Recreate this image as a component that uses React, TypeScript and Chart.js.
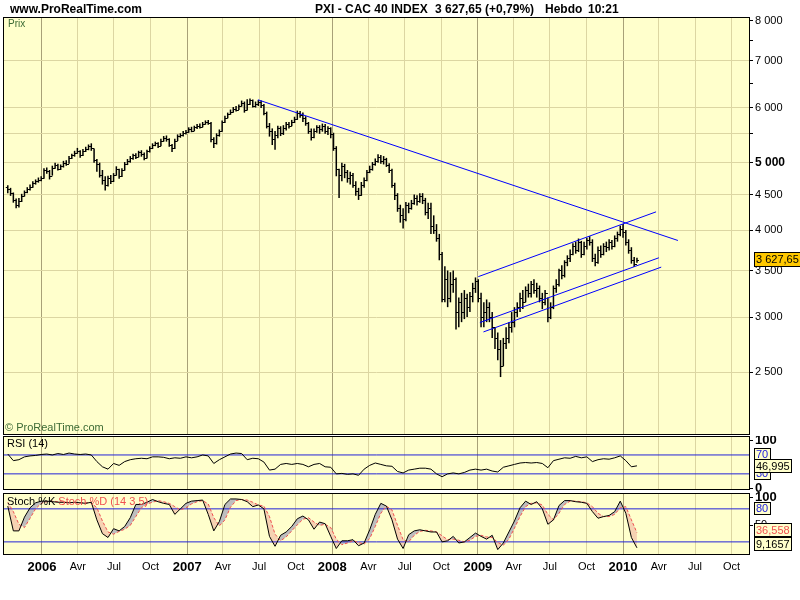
import React, { useEffect, useRef } from "react";
import { Chart, registerables } from "chart.js";

Chart.register(...registerables);

const FONT = '"Liberation Sans", Arial, Helvetica, sans-serif';

// ---------------- data (weekly bars, CAC 40) ----------------
const FIRST_WEEK = "2005-10-07";
const FIRST_OPEN = 4620;

const closes = [
  4580, 4520, 4420, 4350, 4400, 4480, 4530, 4580, 4620, 4670,
  4700, 4720, 4750, 4880, 4860, 4780, 4920, 4960, 4900, 4940,
  5000, 4980, 5080, 5120, 5170, 5200, 5130, 5200, 5230, 5280,
  5250, 5050, 4980, 4800, 4720, 4650, 4750, 4700, 4800, 4900,
  4780, 4880, 4980, 5020, 5080, 5120, 5100, 5180, 5150, 5080,
  5190, 5250, 5300, 5330, 5290, 5380, 5420, 5400, 5300, 5250,
  5380, 5460, 5480, 5520, 5540, 5580, 5560, 5620, 5650, 5630,
  5690, 5720, 5700, 5400, 5330, 5480, 5550, 5720, 5800, 5870,
  5920, 5980, 5960, 6030, 6100, 5950, 6080, 6150, 6040, 6080,
  6110, 6050, 5900, 5650, 5550, 5400, 5480, 5600, 5520, 5600,
  5680, 5650, 5720, 5780, 5900, 5850, 5800, 5700, 5550, 5450,
  5550, 5620, 5580, 5650, 5550, 5600, 5500, 5250, 4900, 4800,
  4950, 4850, 4750, 4800, 4650, 4550, 4500, 4650, 4720, 4850,
  4900, 4980, 5030, 5100, 5020, 5060, 4960, 4880, 4650, 4500,
  4300, 4200, 4150, 4350, 4300, 4380, 4450, 4400, 4480, 4420,
  4250, 4300, 4050, 4000, 3900, 3700, 3180, 3400, 3200, 3350,
  3400, 3050, 3150, 3050, 3200, 3100, 3220, 3300, 3380, 3200,
  3000, 3050, 3100, 3000, 2900, 2800, 2700, 2550, 2750, 2800,
  2900, 2950, 3050, 3100, 3200, 3150, 3280, 3250, 3350, 3280,
  3300, 3200, 3150, 3250, 3000, 3100, 3300, 3350, 3500, 3450,
  3600, 3650, 3700, 3800, 3750, 3850, 3700, 3800, 3870, 3850,
  3650, 3600, 3750, 3700, 3800, 3780, 3850, 3800, 3900, 3950,
  4020, 3980, 3850, 3750, 3620, 3580, 3627.65,
];

const highs = [
  4640, 4600, 4530, 4440, 4450, 4510, 4560, 4610, 4650, 4700,
  4730, 4760, 4780, 4910, 4920, 4880, 4950, 5000, 4980, 4970,
  5030, 5040, 5110, 5150, 5200, 5250, 5210, 5230, 5270, 5310,
  5330, 5240, 5060, 5000, 4880, 4780, 4790, 4800, 4830, 4940,
  4900, 4910, 5010, 5060, 5110, 5150, 5160, 5200, 5210, 5170,
  5220, 5280, 5330, 5360, 5350, 5410, 5460, 5470, 5420, 5320,
  5410, 5490, 5510, 5550, 5570, 5620, 5630, 5650, 5680, 5690,
  5720, 5750, 5760, 5720, 5440, 5510, 5580, 5750, 5840, 5900,
  5960, 6010, 6030, 6060, 6140, 6120, 6168, 6180, 6160, 6120,
  6150, 6140, 6070, 5920, 5700, 5600, 5550, 5650, 5640, 5660,
  5720, 5720, 5760, 5820, 5940, 5930, 5900, 5830, 5720, 5600,
  5600, 5660, 5660, 5690, 5680, 5640, 5620, 5520, 5280, 4900,
  5000, 4980, 4880, 4850, 4830, 4700, 4600, 4690, 4760, 4880,
  4950, 5010, 5070, 5140, 5130, 5110, 5080, 4990, 4900, 4680,
  4520, 4350, 4300, 4390, 4380, 4420, 4500, 4490, 4520, 4520,
  4450, 4380, 4380, 4200, 4080, 3950, 3720, 3550, 3500, 3480,
  3500, 3420, 3200, 3250, 3280, 3240, 3260, 3360, 3420, 3400,
  3250, 3150, 3180, 3150, 3050, 2900, 2850, 2780, 2800, 2900,
  2950, 3050, 3100, 3150, 3250, 3280, 3320, 3350, 3380, 3400,
  3360, 3330, 3250, 3280, 3200, 3150, 3330, 3400, 3520, 3560,
  3620, 3680, 3750, 3830, 3850, 3890, 3860, 3850, 3900, 3920,
  3880, 3700, 3790, 3800, 3830, 3850, 3880, 3870, 3930, 3980,
  4060, 4080, 4000, 3880, 3780, 3660, 3650,
];

const lows = [
  4520, 4480, 4380, 4300, 4310, 4390, 4470, 4520, 4560, 4600,
  4650, 4680, 4700, 4740, 4820, 4730, 4790, 4900, 4870, 4880,
  4920, 4950, 4980, 5060, 5100, 5150, 5080, 5110, 5180, 5210,
  5200, 5000, 4850, 4760, 4650, 4560, 4620, 4660, 4690, 4790,
  4740, 4770, 4870, 4960, 5000, 5050, 5060, 5090, 5100, 5040,
  5070, 5170, 5230, 5280, 5250, 5280, 5360, 5360, 5270, 5180,
  5230, 5370, 5430, 5450, 5490, 5520, 5530, 5550, 5590, 5600,
  5620, 5670, 5670, 5350, 5250, 5310, 5450, 5540, 5700, 5790,
  5860, 5900, 5920, 5950, 6020, 5900, 5940, 6050, 6000, 6000,
  6030, 5990, 5850, 5600, 5450, 5300, 5220, 5420, 5460, 5480,
  5560, 5600, 5640, 5700, 5760, 5800, 5720, 5650, 5500, 5380,
  5420, 5520, 5500, 5540, 5500, 5480, 5420, 5200, 4780, 4450,
  4700, 4750, 4680, 4650, 4600, 4480, 4420, 4480, 4600, 4700,
  4830, 4870, 4950, 5000, 4980, 4970, 4930, 4830, 4600, 4420,
  4250, 4100, 4020, 4120, 4230, 4280, 4350, 4340, 4380, 4360,
  4200, 4150, 3950, 3950, 3850, 3620, 3150, 3150, 3100, 3150,
  3250, 2880, 2900, 2950, 2980, 3000, 3050, 3150, 3250, 3150,
  2900, 2900, 2950, 2950, 2800, 2700, 2600, 2460, 2550, 2700,
  2750, 2850, 2900, 3000, 3050, 3080, 3150, 3200, 3200, 3240,
  3200, 3150, 3080, 3120, 2950, 2980, 3080, 3250, 3320, 3400,
  3420, 3550, 3600, 3680, 3700, 3720, 3650, 3680, 3750, 3800,
  3600, 3550, 3580, 3650, 3680, 3720, 3740, 3750, 3780, 3850,
  3920, 3900, 3800, 3700, 3580, 3540, 3590,
];

// indicators, one value every second week
const rsi14 = [
  72, 58, 60, 66, 68, 69, 71, 72, 70, 73,
  71, 74, 72, 71, 72, 70, 56, 45, 40, 52,
  48, 56, 60, 62, 63, 62, 66, 66, 65, 62,
  64, 63, 66, 64, 66, 70, 68, 52, 60, 66,
  72, 74, 73, 60, 63, 62, 55, 38, 40, 50,
  52, 50, 52, 50, 45, 50, 52, 45, 44, 30,
  31, 29, 30, 27, 40, 48, 53, 50, 47, 46,
  35, 32, 38, 40, 42, 42, 40, 30, 24, 30,
  32, 30, 33, 38, 40, 38, 40, 36, 34, 44,
  47, 50, 53, 54, 53, 54, 52, 43, 58, 61,
  64, 63, 67, 64, 66, 56, 60, 62, 61, 64,
  68, 58, 45, 46.995,
];

const stochK = [
  85, 40, 40, 65, 82, 91, 94, 94, 93, 92,
  92, 91, 92, 91, 90, 92, 60, 35, 28, 44,
  40, 48, 64, 88, 88, 92, 97, 93, 90, 88,
  70, 80, 90, 94, 95, 96, 70, 40, 57, 88,
  98, 98, 97, 93, 84, 87, 80, 30, 12, 32,
  38, 48, 62, 67, 60, 43, 56, 53, 30, 8,
  22, 22, 24, 13, 18, 42, 70, 90, 85, 60,
  25, 8, 33, 40, 42, 40, 38, 38, 20, 22,
  30, 18, 20, 28, 36, 30, 25, 32, 6, 18,
  38, 58, 82, 94, 88, 93, 80, 52, 60, 86,
  95, 95, 93, 92, 90, 75, 63, 66, 68, 75,
  94, 72, 28, 9.1657,
];

const stochD = [
  92, 75, 52, 46, 63, 80, 90, 93, 94, 93,
  92, 92, 91, 91, 91, 91, 82, 58, 38, 34,
  39, 43, 50, 66, 82, 89, 92, 95, 93, 90,
  84, 78, 82, 89, 93, 95, 89, 64, 49, 60,
  83, 95, 97, 96, 92, 87, 85, 66, 34, 22,
  29, 40, 51, 61, 64, 56, 50, 52, 46, 25,
  15, 18, 22, 19, 16, 26, 48, 72, 85, 78,
  50, 24, 20, 32, 39, 41, 40, 38, 31, 24,
  25, 23, 20, 23, 30, 32, 29, 28, 19, 14,
  25, 45, 66, 84, 90, 91, 87, 70, 60, 72,
  88, 94, 94, 93, 91, 84, 72, 66, 66, 70,
  82, 84, 60, 36.558,
];

const rsiLevels = [70, 30];
const stochLevels = [80, 20];

const priceTicks = [2500, 3000, 3500, 4000, 4500, 5000, 5500, 6000, 6500, 7000, 7500, 8000];
const priceLabelled = [2500, 3000, 3500, 4000, 4500, 5000, 6000, 7000, 8000];
const priceGridded = [2500, 3000, 3500, 4000, 4500, 5000, 5500, 6000, 7000];

const years = [2006, 2007, 2008, 2009, 2010];
const quarterNames = ["Avr", "Jul", "Oct"];

// hand-drawn trend lines: [start date, start price] -> [end date, end price]
const trendStarts = [
  ["2007-06-28", 6156],
  ["2009-01-02", 3429],
  ["2009-01-06", 2946],
  ["2009-01-15", 2856],
];
const trendEnds = [
  ["2010-05-19", 3865],
  ["2010-03-25", 4249],
  ["2010-04-01", 3650],
  ["2010-04-07", 3539],
];

const SITE = "www.ProRealTime.com";
const TITLE_PARTS = ["PXI - CAC 40 INDEX", "3 627,65 (+0,79%)", "Hebdo", "10:21"];

// ---------------- styling ----------------
const PANEL_BG = "#FFFFCC";
const GRID = "#DCD6A2";
const YEAR_GRID = "#A8A178";
const TREND = "#0000FF";
const LEVEL = "#2323D8";
const GREEN = "#3D6B35";
const RED = "#F05050";

// ---------------- helpers ----------------
const DAY = 86400000;
const EPOCH = Date.UTC(2006, 0, 1);
function dayNum(iso: string) {
  const [y, m, d] = iso.split("-").map(Number);
  return (Date.UTC(y, m - 1, d) - EPOCH) / DAY;
}
const firstDay = dayNum(FIRST_WEEK);
const weekX = closes.map((_, i) => firstDay + 7 * i);
const indX = rsi14.map((_, k) => firstDay + 14 * k);
const X_MIN = -95.5;
const X_MAX = 1777.7;
const P_MIN = 2037.6;
const P_MAX = 8068.7;

const quarterTicks: { value: number; label: string; year: boolean }[] = [];
years.forEach((y) =>
  [0, 3, 6, 9].forEach((m, q) =>
    quarterTicks.push({
      value: (Date.UTC(y, m, 1) - EPOCH) / DAY,
      label: q === 0 ? String(y) : quarterNames[q - 1],
      year: q === 0,
    })
  )
);
const isYearTick = (v: any) => quarterTicks.some((t) => t.year && t.value === v);

const thousands = (v: number) => String(Math.trunc(v)).replace(/\B(?=(\d{3})+(?!\d))/g, " ");
const fmtPrice = (v: number) => thousands(v) + "," + v.toFixed(2).split(".")[1];
const fmtDec = (v: number) => String(v).replace(".", ",");

function xAxis(showLabels: boolean): any {
  return {
    type: "linear",
    min: X_MIN,
    max: X_MAX,
    offset: false,
    afterBuildTicks: (s: any) => {
      s.ticks = quarterTicks.map((t) => ({ value: t.value }));
    },
    ticks: {
      display: showLabels,
      autoSkip: false,
      maxRotation: 0,
      minRotation: 0,
      padding: 6,
      color: "#000",
      callback: (v: any) => {
        const t = quarterTicks.find((q) => q.value === v);
        return t ? t.label : "";
      },
      font: (ctx: any) => {
        const yr = isYearTick(ctx.tick && ctx.tick.value);
        return { family: FONT, size: yr ? 13 : 11, weight: yr ? "bold" : "normal" };
      },
    },
    grid: {
      offset: false,
      drawTicks: false,
      lineWidth: 1,
      color: (ctx: any) => (isYearTick(ctx.tick && ctx.tick.value) ? YEAR_GRID : GRID),
    },
    border: { display: false },
    afterFit: (s: any) => {
      s.height = showLabels ? 46 : 0;
      s.paddingLeft = 0;
      s.paddingRight = 0;
      s.paddingTop = 0;
      s.paddingBottom = 0;
    },
  };
}

function fixRightAxis(s: any) {
  s.width = 51;
  s.paddingTop = 0;
  s.paddingBottom = 0;
  s.paddingLeft = 0;
  s.paddingRight = 0;
}

function fillPanel(chart: any) {
  const { ctx, chartArea: a } = chart;
  ctx.save();
  ctx.fillStyle = PANEL_BG;
  ctx.fillRect(a.left, a.top, a.right - a.left, a.bottom - a.top);
  ctx.restore();
}

function framePanel(chart: any) {
  const { ctx, chartArea: a } = chart;
  ctx.save();
  ctx.strokeStyle = "#000";
  ctx.lineWidth = 1;
  ctx.strokeRect(a.left - 0.5, a.top - 0.5, a.right - a.left + 1, a.bottom - a.top + 1);
  ctx.restore();
}

function valueBox(ctx: any, x: number, yc: number, text: string, color: string, bg: string, h = 14) {
  ctx.save();
  ctx.font = `11px ${FONT}`;
  const w = Math.ceil(ctx.measureText(text).width) + 4;
  const top = Math.round(yc - h / 2);
  ctx.fillStyle = bg;
  ctx.fillRect(x, top, w, h);
  ctx.strokeStyle = "#000";
  ctx.lineWidth = 1;
  ctx.strokeRect(x + 0.5, top + 0.5, w - 1, h - 1);
  ctx.fillStyle = color;
  ctx.textBaseline = "middle";
  ctx.textAlign = "left";
  ctx.fillText(text, x + 2, top + h / 2 + 0.5);
  ctx.restore();
}

function text(ctx: any, s: string, x: number, y: number, font: string, color: string) {
  ctx.save();
  ctx.font = font;
  ctx.fillStyle = color;
  ctx.textBaseline = "alphabetic";
  ctx.textAlign = "left";
  ctx.fillText(s, x, y);
  ctx.restore();
}

// ---------------- plugins ----------------
const pricePlugin = {
  id: "pricePanel",
  beforeDraw: (chart: any) => fillPanel(chart),
  afterDatasetsDraw: (chart: any) => {
    const { ctx, chartArea: a } = chart;
    const xs = chart.scales.x;
    const ys = chart.scales.y;
    ctx.save();
    ctx.beginPath();
    ctx.rect(a.left, a.top, a.right - a.left, a.bottom - a.top);
    ctx.clip();
    ctx.strokeStyle = "#000";
    ctx.lineWidth = 1;
    ctx.beginPath();
    closes.forEach((c, i) => {
      const px = xs.getPixelForValue(weekX[i]);
      const o = i === 0 ? FIRST_OPEN : closes[i - 1];
      const yo = Math.round(ys.getPixelForValue(o)) + 0.5;
      const yc = Math.round(ys.getPixelForValue(c)) + 0.5;
      ctx.moveTo(px - 2, yo);
      ctx.lineTo(px, yo);
      ctx.moveTo(px, yc);
      ctx.lineTo(px + 2, yc);
    });
    ctx.stroke();
    ctx.restore();
  },
  afterDraw: (chart: any) => {
    const { ctx, chartArea: a } = chart;
    framePanel(chart);
    const bold = `bold 12px ${FONT}`;
    text(ctx, SITE, 10, 13, bold, "#000");
    const xs = [315, 435, 545, 588];
    TITLE_PARTS.forEach((p, i) => text(ctx, p, xs[i], 13, bold, "#000"));
    text(ctx, "Prix", a.left + 4, a.top + 9, `10px ${FONT}`, GREEN);
    text(ctx, "\u00A9 ProRealTime.com", a.left + 1, a.bottom - 3, `11px ${FONT}`, GREEN);
    const last = closes[closes.length - 1];
    valueBox(ctx, a.right + 5, chart.scales.y.getPixelForValue(last), fmtPrice(last), "#000", "#FFC800", 15);
  },
};

const rsiPlugin = {
  id: "rsiPanel",
  beforeDraw: (chart: any) => fillPanel(chart),
  afterDraw: (chart: any) => {
    const { ctx, chartArea: a } = chart;
    const ys = chart.scales.y;
    framePanel(chart);
    text(ctx, "RSI (14)", a.left + 3, a.top + 10, `11px ${FONT}`, "#000");
    const x = a.right + 5;
    valueBox(ctx, x, ys.getPixelForValue(rsiLevels[1]), String(rsiLevels[1]), "#2020E0", PANEL_BG, 13);
    valueBox(ctx, x, ys.getPixelForValue(rsiLevels[0]), String(rsiLevels[0]), "#2020E0", PANEL_BG, 13);
    const last = rsi14[rsi14.length - 1];
    valueBox(ctx, x, ys.getPixelForValue(last), fmtDec(last), "#000", PANEL_BG, 14);
  },
};

const stochPlugin = {
  id: "stochPanel",
  beforeDraw: (chart: any) => fillPanel(chart),
  afterDraw: (chart: any) => {
    const { ctx, chartArea: a } = chart;
    const ys = chart.scales.y;
    framePanel(chart);
    ctx.save();
    ctx.font = `11px ${FONT}`;
    const k = "Stoch %K ";
    const kw = ctx.measureText(k).width;
    ctx.restore();
    text(ctx, k, a.left + 3, a.top + 11, `11px ${FONT}`, "#000");
    text(ctx, "Stoch %D (14 3 5)", a.left + 3 + kw, a.top + 11, `11px ${FONT}`, RED);
    const x = a.right + 5;
    const h = 14;
    valueBox(ctx, x, ys.getPixelForValue(stochLevels[0]), String(stochLevels[0]), "#2020E0", PANEL_BG, 13);
    const lastK = stochK[stochK.length - 1];
    const lastD = stochD[stochD.length - 1];
    const cK = Math.min(ys.getPixelForValue(lastK), a.bottom - 3 - h / 2);
    let cD = ys.getPixelForValue(lastD);
    if (cD + h / 2 > cK - h / 2) cD = cK - h;
    valueBox(ctx, x, cD, fmtDec(lastD), RED, PANEL_BG, h);
    valueBox(ctx, x, cK, fmtDec(lastK), "#000", PANEL_BG, h);
  },
};

// ---------------- configs ----------------
const commonOptions = {
  animation: false,
  responsive: false,
  events: [],
};

function priceConfig(): any {
  return {
    type: "bar",
    data: {
      datasets: [
        {
          type: "bar",
          data: weekX.map((x, i) => ({ x, y: [lows[i], highs[i]] })),
          backgroundColor: "#000",
          borderWidth: 0,
          barThickness: 1.5,
          inflateAmount: 0,
          grouped: false,
          order: 2,
        },
        ...trendStarts.map((s, i) => ({
          type: "line",
          data: [
            { x: dayNum(s[0] as string), y: s[1] as number },
            { x: dayNum(trendEnds[i][0] as string), y: trendEnds[i][1] as number },
          ],
          borderColor: TREND,
          borderWidth: 1,
          pointRadius: 0,
          fill: false,
          order: 1,
        })),
      ],
    },
    options: {
      ...commonOptions,
      layout: { padding: { left: 4, top: 18, right: 0, bottom: 2 } },
      plugins: { legend: { display: false }, tooltip: { enabled: false } },
      scales: {
        x: xAxis(false),
        y: {
          type: "logarithmic",
          position: "right",
          min: P_MIN,
          max: P_MAX,
          afterBuildTicks: (s: any) => {
            s.ticks = priceTicks.map((v) => ({ value: v }));
          },
          ticks: {
            autoSkip: false,
            padding: 2,
            color: "#000",
            callback: (v: any) => (priceLabelled.includes(v) ? thousands(v) : ""),
            font: (ctx: any) => ({
              family: FONT,
              size: ctx.tick && ctx.tick.value === 5000 ? 12 : 11,
              weight: ctx.tick && ctx.tick.value === 5000 ? "bold" : "normal",
            }),
          },
          grid: {
            drawTicks: true,
            tickLength: 4,
            tickColor: "#000",
            color: (ctx: any) => (ctx.tick && priceGridded.includes(ctx.tick.value) ? GRID : "rgba(0,0,0,0)"),
          },
          border: { display: false },
          afterFit: fixRightAxis,
        },
      },
    },
    plugins: [pricePlugin],
  };
}

function rsiConfig(): any {
  return {
    type: "line",
    data: {
      datasets: [
        {
          data: indX.map((x, k) => ({ x, y: rsi14[k] })),
          borderColor: "#000",
          borderWidth: 1,
          pointRadius: 0,
          tension: 0,
        },
        ...rsiLevels.map((v) => ({
          data: [
            { x: X_MIN, y: v },
            { x: X_MAX, y: v },
          ],
          borderColor: LEVEL,
          borderWidth: 1,
          pointRadius: 0,
        })),
      ],
    },
    options: {
      ...commonOptions,
      layout: { padding: { left: 4, top: 1, right: 0, bottom: 5 } },
      plugins: { legend: { display: false }, tooltip: { enabled: false } },
      scales: {
        x: xAxis(false),
        y: {
          type: "linear",
          position: "right",
          min: -2,
          max: 108,
          afterBuildTicks: (s: any) => {
            s.ticks = [{ value: 0 }, { value: 100 }];
          },
          ticks: {
            autoSkip: false,
            padding: 2,
            color: "#000",
            font: { family: FONT, size: 13, weight: "bold" },
            callback: (v: any) => String(v),
          },
          grid: { drawOnChartArea: false, drawTicks: true, tickLength: 4, tickColor: "#000" },
          border: { display: false },
          afterFit: fixRightAxis,
        },
      },
    },
    plugins: [rsiPlugin],
  };
}

function stochConfig(): any {
  return {
    type: "line",
    data: {
      datasets: [
        {
          data: indX.map((x, k) => ({ x, y: stochK[k] })),
          borderColor: "#000",
          borderWidth: 1,
          pointRadius: 0,
          tension: 0,
          fill: { target: 1, above: "#BEBEBE", below: "#F6D2B2" },
        },
        {
          data: indX.map((x, k) => ({ x, y: stochD[k] })),
          borderColor: RED,
          borderWidth: 1,
          borderDash: [3, 2],
          pointRadius: 0,
          tension: 0,
        },
        ...stochLevels.map((v) => ({
          data: [
            { x: X_MIN, y: v },
            { x: X_MAX, y: v },
          ],
          borderColor: LEVEL,
          borderWidth: 1,
          pointRadius: 0,
        })),
      ],
    },
    options: {
      ...commonOptions,
      layout: { padding: { left: 4, top: 3, right: 0, bottom: 0 } },
      plugins: {
        legend: { display: false },
        tooltip: { enabled: false },
        filler: { drawTime: "beforeDatasetsDraw" },
      },
      scales: {
        x: xAxis(true),
        y: {
          type: "linear",
          position: "right",
          min: -2,
          max: 107,
          afterBuildTicks: (s: any) => {
            s.ticks = [{ value: 50 }, { value: 100 }];
          },
          ticks: {
            autoSkip: false,
            padding: 2,
            color: "#000",
            font: (ctx: any) =>
              ctx.tick && ctx.tick.value === 100
                ? { family: FONT, size: 13, weight: "bold" }
                : { family: FONT, size: 11, weight: "normal" },
            callback: (v: any) => String(v),
          },
          grid: { drawOnChartArea: false, drawTicks: true, tickLength: 4, tickColor: "#000" },
          border: { display: false },
          afterFit: fixRightAxis,
        },
      },
    },
    plugins: [stochPlugin],
  };
}

export default function App() {
  const priceRef = useRef<HTMLCanvasElement>(null);
  const rsiRef = useRef<HTMLCanvasElement>(null);
  const stochRef = useRef<HTMLCanvasElement>(null);

  useEffect(() => {
    const charts = [
      new Chart(priceRef.current as HTMLCanvasElement, priceConfig()),
      new Chart(rsiRef.current as HTMLCanvasElement, rsiConfig()),
      new Chart(stochRef.current as HTMLCanvasElement, stochConfig()),
    ];
    return () => charts.forEach((c) => c.destroy());
  }, []);

  const abs = (top: number, h: number): any => ({ position: "absolute", left: 0, top, width: 800, height: h });
  return (
    <div style={{ position: "absolute", left: 0, top: 0, width: 800, height: 600, background: "#fff", overflow: "hidden" }}>
      <canvas ref={priceRef} width={800} height={436} style={abs(0, 436)} />
      <canvas ref={rsiRef} width={800} height={58} style={abs(436, 58)} />
      <canvas ref={stochRef} width={800} height={109} style={abs(491, 109)} />
    </div>
  );
}
